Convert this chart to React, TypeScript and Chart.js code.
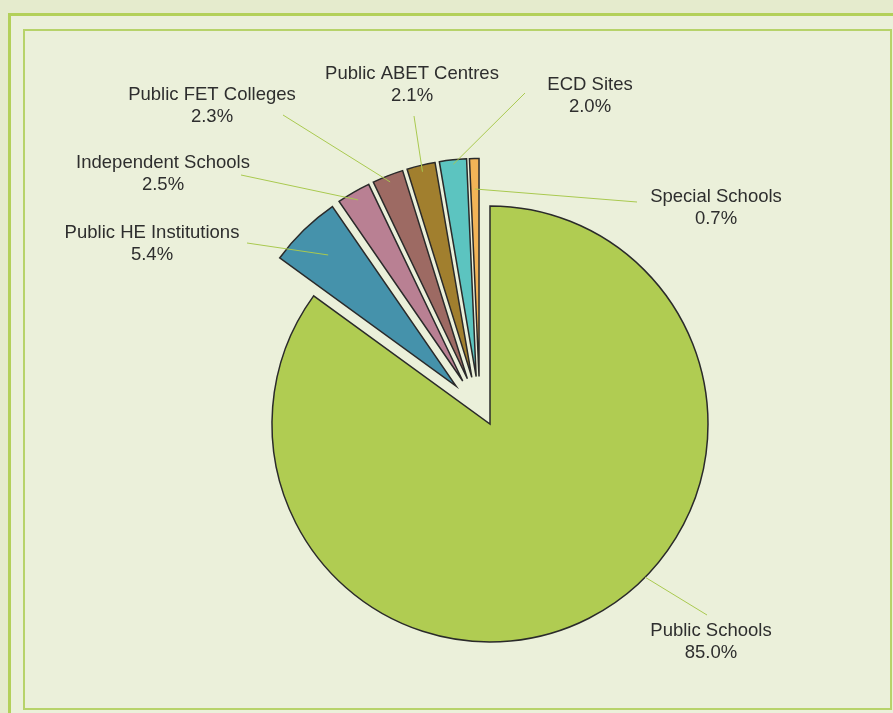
import React, { useEffect, useRef } from "react";
import { Chart, registerables } from "chart.js";

Chart.register(...registerables);

// ---- data ----
const categories = [
  "Public Schools",
  "Public HE Institutions",
  "Independent Schools",
  "Public FET Colleges",
  "Public ABET Centres",
  "ECD Sites",
  "Special Schools",
];
const shares = [85.0, 5.4, 2.5, 2.3, 2.1, 2.0, 0.7];

// ---- style ----
const sliceColors = ["#b0cc52", "#4592ab", "#b98093", "#9d6a63", "#a17f2e", "#5cc4c0", "#f2b457"];
const exploded = [false, true, true, true, true, true, true];
const GROUP_SHIFT = 17;
const GROUP_ROTATE = (-10 * Math.PI) / 180;
const SLICE_SHIFT = 34;
// label layout (text centre x, first-line baseline y), leader end points, leader anchor in slice
const labelX = [711, 152, 163, 212, 412, 590, 716];
const labelY = [636, 238, 168, 100, 79, 90, 202];
const leaderEndX = [707, 247, 241, 283, 414, 525, 637];
const leaderEndY = [615, 243, 175, 115, 116, 93, 202];
const anchorAngleFrac = [0.44, 0.5, 0.5, 0.5, 0.5, 0.5, 0.5];
const anchorRadiusFrac = [1.0, 0.84, 0.96, 0.97, 0.97, 0.98, 0.86];

const explodePlugin = {
  id: "explodeGroup",
  afterDatasetsUpdate(chart: any) {
    const arcs = chart.getDatasetMeta(0).data;
    const idx = exploded.map((e, i) => (e ? i : -1)).filter((i) => i >= 0);
    if (!idx.length) return;
    const gMid = (arcs[idx[0]].startAngle + arcs[idx[idx.length - 1]].endAngle) / 2 + GROUP_ROTATE;
    idx.forEach((i) => {
      const a = arcs[i];
      const mid = (a.startAngle + a.endAngle) / 2;
      a.x = a.x + Math.cos(gMid) * GROUP_SHIFT + Math.cos(mid) * SLICE_SHIFT;
      a.y = a.y + Math.sin(gMid) * GROUP_SHIFT + Math.sin(mid) * SLICE_SHIFT;
    });
  },
};

const labelPlugin = {
  id: "sliceLabels",
  afterDatasetsDraw(chart: any) {
    const ctx = chart.ctx;
    const arcs = chart.getDatasetMeta(0).data;
    ctx.save();
    arcs.forEach((a: any, i: number) => {
      const ang = a.startAngle + (a.endAngle - a.startAngle) * anchorAngleFrac[i];
      const r = a.outerRadius * anchorRadiusFrac[i];
      const px = a.x + Math.cos(ang) * r;
      const py = a.y + Math.sin(ang) * r;
      ctx.beginPath();
      ctx.strokeStyle = "#a9c94f";
      ctx.lineWidth = 1;
      ctx.moveTo(px, py);
      ctx.lineTo(leaderEndX[i], leaderEndY[i]);
      ctx.stroke();
    });
    ctx.fillStyle = "#2e2e2e";
    ctx.font = "18.5px 'Liberation Sans', Arial, sans-serif";
    ctx.textAlign = "center";
    ctx.textBaseline = "alphabetic";
    categories.forEach((name, i) => {
      ctx.fillText(name, labelX[i], labelY[i]);
      ctx.fillText(shares[i].toFixed(1) + "%", labelX[i], labelY[i] + 22);
    });
    ctx.restore();
  },
};

export default function App() {
  const canvasRef = useRef<HTMLCanvasElement | null>(null);

  useEffect(() => {
    if (!canvasRef.current) return;
    const chart = new Chart(canvasRef.current, {
      type: "pie",
      data: {
        labels: categories,
        datasets: [
          {
            data: shares,
            backgroundColor: sliceColors,
            borderColor: "#2a2a2a",
            borderWidth: 1.5,
            borderJoinStyle: "miter",
            hoverOffset: 0,
            hoverBorderWidth: 0,
          } as any,
        ],
      },
      options: {
        responsive: false,
        animation: false,
        events: [],
        layout: { padding: { left: 271.25, right: 184.25, top: 205.25, bottom: 70.25 } },
        plugins: { legend: { display: false }, tooltip: { enabled: false } },
      },
      plugins: [explodePlugin, labelPlugin],
    });
    return () => chart.destroy();
  }, []);

  return (
    <div style={{ position: "absolute", left: 0, top: 0, width: 893, height: 713, overflow: "hidden", background: "#e5ebcd" }}>
      <div
        style={{
          position: "absolute",
          left: 8,
          top: 13,
          width: 900,
          height: 720,
          borderLeft: "3px solid #b3d05a",
          borderTop: "3px solid #b3d05a",
          background: "#ebf0da",
          boxSizing: "border-box",
        }}
      />
      <div
        style={{
          position: "absolute",
          left: 23,
          top: 29,
          width: 869,
          height: 681,
          border: "2px solid #b7d36a",
          boxSizing: "border-box",
        }}
      />
      <canvas ref={canvasRef} width={893} height={713} style={{ position: "absolute", left: 0, top: 0 }} />
    </div>
  );
}
